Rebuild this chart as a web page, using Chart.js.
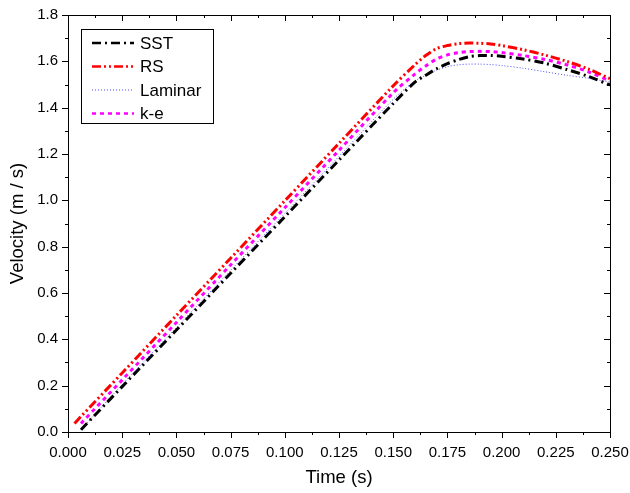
<!DOCTYPE html>
<html>
<head>
<meta charset="utf-8">
<script src="https://cdn.jsdelivr.net/npm/chart.js@4/dist/chart.umd.min.js"></script>
<style>
html, body { margin: 0; padding: 0; background: #fff; }
</style>
</head>
<body>
<canvas id="chart" width="630" height="493"></canvas>
<script>
// --- data ---
const time    = [0.003, 0.006, 0.025, 0.05, 0.075, 0.1, 0.125, 0.15, 0.16, 0.165, 0.17, 0.175, 0.18, 0.185, 0.19, 0.195, 0.2, 0.21, 0.22, 0.23, 0.24, 0.25];
const sst     = [null, 0.01, 0.196, 0.44, 0.685, 0.929, 1.174, 1.418, 1.51, 1.54, 1.568, 1.59, 1.607, 1.62, 1.625, 1.625, 1.622, 1.61, 1.592, 1.565, 1.535, 1.498];
const rs      = [0.037, 0.067, 0.255, 0.503, 0.75, 0.998, 1.246, 1.494, 1.585, 1.625, 1.655, 1.668, 1.676, 1.679, 1.678, 1.675, 1.668, 1.65, 1.627, 1.6, 1.567, 1.525];
const laminar = [null, 0.01, 0.205, 0.451, 0.698, 0.944, 1.19, 1.436, 1.515, 1.54, 1.562, 1.577, 1.585, 1.588, 1.588, 1.586, 1.582, 1.57, 1.555, 1.54, 1.527, 1.51];
const ke      = [null, 0.037, 0.225, 0.473, 0.721, 0.968, 1.216, 1.464, 1.545, 1.58, 1.61, 1.628, 1.637, 1.642, 1.643, 1.642, 1.638, 1.625, 1.608, 1.585, 1.555, 1.515];

const xTicks = [0, 0.025, 0.05, 0.075, 0.1, 0.125, 0.15, 0.175, 0.2, 0.225, 0.25];
const yTicks = [0, 0.2, 0.4, 0.6, 0.8, 1.0, 1.2, 1.4, 1.6, 1.8];

const FONT = "'Liberation Sans', Arial, sans-serif";

function pts(vals) {
    const out = [];
    time.forEach((t, i) => { if (vals[i] !== null) out.push({x: t, y: vals[i]}); });
    return out;
}

const datasets = [
    { label: 'SST',     data: pts(sst),     borderColor: '#000000', borderWidth: 3, borderDash: [9, 4, 2, 4] },
    { label: 'RS',      data: pts(rs),      borderColor: '#ff0000', borderWidth: 3, borderDash: [9, 3, 2, 3, 2, 3] },
    { label: 'Laminar', data: pts(laminar), borderColor: '#4d4dff', borderWidth: 1, borderDash: [1, 2] },
    { label: 'k-e',     data: pts(ke),      borderColor: '#ff00ff', borderWidth: 3, borderDash: [4, 4] }
];
datasets.forEach(d => { d.fill = false; d.pointRadius = 0; d.tension = 0.3; });

// frame + ticks on all four sides (outward left/bottom, inward top/right)
const framePlugin = {
    id: 'frame',
    afterDraw(chart) {
        const c = chart.ctx, a = chart.chartArea;
        const xs = chart.scales.x, ys = chart.scales.y;
        c.save();
        c.strokeStyle = '#000';
        c.lineWidth = 1;
        c.strokeRect(a.left + 0.5, a.top + 0.5, a.right - a.left, a.bottom - a.top);
        c.beginPath();
        xTicks.forEach((v, i) => {
            const px = Math.round(xs.getPixelForValue(v)) + 0.5;
            c.moveTo(px, a.bottom); c.lineTo(px, a.bottom + 6);
            c.moveTo(px, a.top); c.lineTo(px, a.top + 6);
            if (i < xTicks.length - 1) {
                const pm = Math.round(xs.getPixelForValue(v + 0.0125)) + 0.5;
                c.moveTo(pm, a.bottom); c.lineTo(pm, a.bottom + 3);
                c.moveTo(pm, a.top); c.lineTo(pm, a.top + 3);
            }
        });
        yTicks.forEach((v, i) => {
            const py = Math.round(ys.getPixelForValue(v)) + 0.5;
            c.moveTo(a.left, py); c.lineTo(a.left - 6, py);
            c.moveTo(a.right, py); c.lineTo(a.right - 6, py);
            if (i < yTicks.length - 1) {
                const pm = Math.round(ys.getPixelForValue(v + 0.1)) + 0.5;
                c.moveTo(a.left, pm); c.lineTo(a.left - 3, pm);
                c.moveTo(a.right, pm); c.lineTo(a.right - 3, pm);
            }
        });
        c.stroke();
        c.restore();
    }
};

// boxed legend in the top-left corner
const legendPlugin = {
    id: 'boxLegend',
    afterDatasetsDraw(chart) {
        const c = chart.ctx;
        const bx = 81, by = 29, bw = 132, bh = 94;
        c.save();
        c.fillStyle = '#fff';
        c.fillRect(bx, by, bw, bh);
        c.strokeStyle = '#000';
        c.lineWidth = 1;
        c.setLineDash([]);
        c.strokeRect(bx + 0.5, by + 0.5, bw, bh);
        c.font = '17px ' + FONT;
        c.textBaseline = 'middle';
        datasets.forEach((d, i) => {
            const y = 43 + i * 23.5;
            c.strokeStyle = d.borderColor;
            c.lineWidth = Math.min(d.borderWidth, 2.5);
            c.setLineDash(d.borderDash);
            c.beginPath();
            c.moveTo(92, y); c.lineTo(134, y);
            c.stroke();
            c.fillStyle = '#000';
            c.fillText(d.label, 140, y + 1);
        });
        c.restore();
    }
};

new Chart(document.getElementById('chart').getContext('2d'), {
    type: 'line',
    data: { datasets: datasets },
    options: {
        responsive: false,
        animation: false,
        layout: { padding: { left: 7, top: 15, right: 20, bottom: 4 } },
        plugins: { legend: { display: false }, tooltip: { enabled: false } },
        scales: {
            x: {
                type: 'linear', min: 0, max: 0.25,
                afterBuildTicks: s => { s.ticks = xTicks.map(v => ({value: v})); },
                afterFit: s => { s.height = 57; s.paddingLeft = 0; s.paddingRight = 0; },
                ticks: { callback: v => v.toFixed(3), color: '#000', font: { family: FONT, size: 15 }, padding: 12, maxRotation: 0, autoSkip: false },
                grid: { display: false, drawTicks: false },
                border: { display: false },
                title: { display: true, text: 'Time (s)', color: '#000', font: { family: FONT, size: 18.5 }, padding: 0 }
            },
            y: {
                min: 0, max: 1.8,
                afterBuildTicks: s => { s.ticks = yTicks.map(v => ({value: v})); },
                afterFit: s => { s.width = 61; s.paddingTop = 0; s.paddingBottom = 0; },
                ticks: { callback: v => v.toFixed(1), color: '#000', font: { family: FONT, size: 15 }, padding: 10 },
                grid: { display: false, drawTicks: false },
                border: { display: false },
                title: { display: true, text: 'Velocity (m / s)', color: '#000', font: { family: FONT, size: 18.5 }, padding: 0 }
            }
        }
    },
    plugins: [framePlugin, legendPlugin]
});
</script>
</body>
</html>
